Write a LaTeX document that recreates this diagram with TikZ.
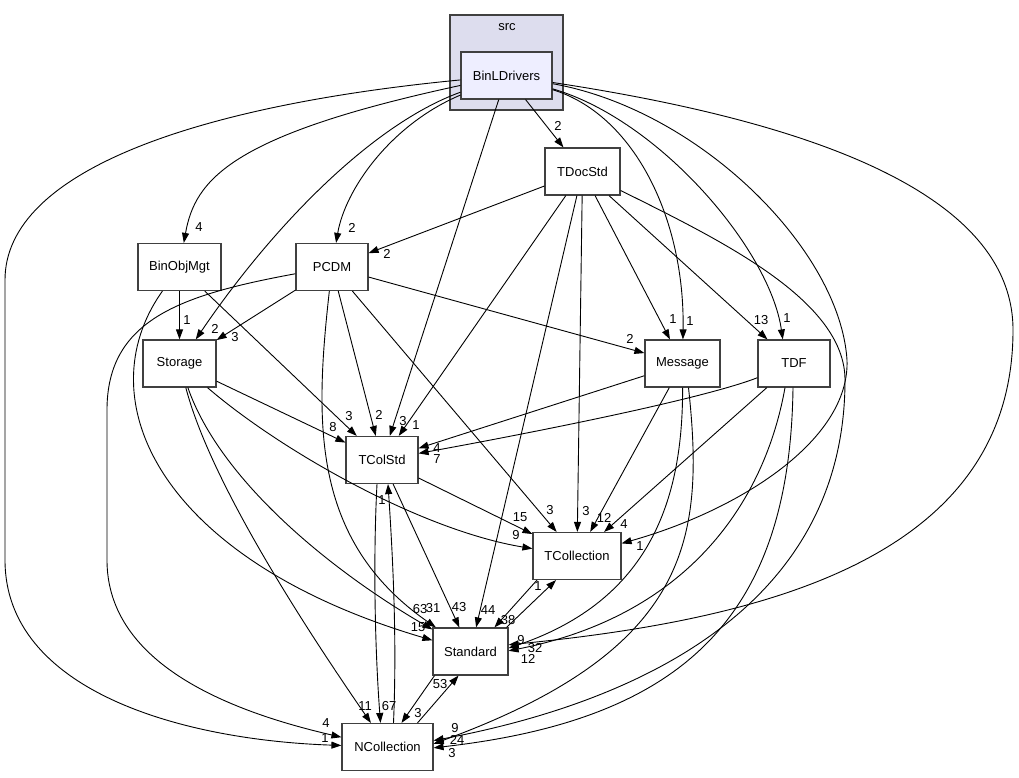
\documentclass[tikz,border=0pt]{standalone}
\usepackage{fontspec}
\setmainfont{Liberation Sans}
\usetikzlibrary{arrows.meta}

\definecolor{srcfill}{HTML}{DDDDEE}
\definecolor{dirfill}{HTML}{EEEEFF}
\definecolor{boxline}{HTML}{404040}

\tikzset{
  dirbox/.style={draw=boxline, line width=1.2pt, fill=white, minimum height=47pt, inner sep=2pt, font=\fontsize{13}{15}\selectfont},
  srcbox/.style={draw=boxline, line width=1.2pt, fill=srcfill},
  dep/.style={-{Triangle[length=10pt,width=7pt]}, line width=0.9pt},
  num/.style={inner sep=0pt, font=\fontsize{13}{15}\selectfont}
}

\begin{document}
\begin{tikzpicture}[x=1pt,y=-1pt]
\useasboundingbox (0,0) rectangle (1019,777);

\node[srcbox, minimum width=113pt, minimum height=95pt, anchor=center] (0) at (506.5,62.5) {};
\node[num, anchor=center] (0l) at (507,27) {src};

\node[dirbox, fill=dirfill, minimum width=91pt, anchor=center] (1) at (506.5,75.5) {BinLDrivers};
\node[dirbox, minimum width=75pt, anchor=center] (2) at (582.5,171.5) {TDocStd};
\node[dirbox, minimum width=83pt, anchor=center] (3) at (179.5,267) {BinObjMgt};
\node[dirbox, minimum width=72pt, anchor=center] (4) at (332,267) {PCDM};
\node[dirbox, minimum width=73pt, anchor=center] (5) at (179.5,363.5) {Storage};
\node[dirbox, minimum width=75pt, anchor=center] (6) at (682.5,363.5) {Message};
\node[dirbox, minimum width=72pt, anchor=center] (7) at (794,363.5) {TDF};
\node[dirbox, minimum width=72pt, anchor=center] (8) at (382,460) {TColStd};
\node[dirbox, minimum width=88pt, anchor=center] (9) at (577,556) {TCollection};
\node[dirbox, minimum width=75pt, anchor=center] (10) at (470.5,651.5) {Standard};
\node[dirbox, minimum width=91pt, anchor=center] (11) at (387.5,747) {NCollection};

% BinLDrivers
\draw[dep] (1) -- (2) node[num] (l1) at (558,126) {2};
\draw[dep] (1) .. controls (230,135) and (195,180) .. (3) node[num] (l2) at (199,227) {4};
\draw[dep] (1) .. controls (390,125) and (345,190) .. (4) node[num] (l3) at (352,228) {2};
\draw[dep] (1) .. controls (370,125) and (270,230) .. (5) node[num] (l4) at (215,329) {2};
\draw[dep] (1) -- (8) node[num] (l5) at (403,421) {3};
\draw[dep] (1) .. controls (200,105) and (5,170) .. (5,280) -- (5,560) .. controls (5,690) and (180,740) .. (11) node[num] (l6) at (325,738) {1};
\draw[dep] (1) .. controls (635,115) and (685,220) .. (6) node[num] (l7) at (690,321) {1};
\draw[dep] (1) .. controls (660,120) and (770,250) .. (7.115) node[num] (l8) at (787,318) {1};
\draw[dep] (1) .. controls (700,110) and (840,250) .. (847,360) .. controls (850,440) and (740,510) .. (9) node[num] (l9) at (640,546) {1};
\draw[dep] (1) .. controls (800,120) and (1013,190) .. (1013,330) .. controls (1013,560) and (760,620) .. (10.10) node[num] (l10) at (521,640) {9};

% TDocStd
\draw[dep] (2) -- (4) node[num] (l11) at (387,254) {2};
\draw[dep] (2) -- (8) node[num] (l12) at (416,425) {1};
\draw[dep] (2) -- (10) node[num] (l13) at (488,610) {44};
\draw[dep] (2) -- (9) node[num] (l14) at (586,511) {3};
\draw[dep] (2) -- (6) node[num] (l15) at (673,319) {1};
\draw[dep] (2) -- (7) node[num] (l16) at (761,320) {13};
\draw[dep] (2) .. controls (720,240) and (845,300) .. (845,380) .. controls (845,600) and (650,700) .. (11.8) node[num] (l17) at (455,728) {9};

% BinObjMgt
\draw[dep] (3) -- (5) node[num] (l18) at (187,320) {1};
\draw[dep] (3) -- (8) node[num] (l19) at (349,416) {3};
\draw[dep] (3) .. controls (85,400) and (160,560) .. (10) node[num] (l20) at (418,627) {15};

% PCDM
\draw[dep] (4) -- (5) node[num] (l21) at (235,337) {3};
\draw[dep] (4) -- (8) node[num] (l22) at (379,415) {2};
\draw[dep] (4) -- (9) node[num] (l23) at (550,510) {3};
\draw[dep] (4) -- (6) node[num] (l24) at (630,339) {2};
\draw[dep] (4) .. controls (180,295) and (107,320) .. (107,410) -- (107,560) .. controls (107,640) and (180,700) .. (11.168) node[num] (l25) at (326,723) {4};
\draw[dep] (4) .. controls (315,420) and (310,540) .. (10) node[num] (l26) at (433,608) {31};

% Storage
\draw[dep] (5) -- (8) node[num] (l27) at (333,427) {8};
\draw[dep] (5) .. controls (280,450) and (420,530) .. (9) node[num] (l28) at (516,535) {9};
\draw[dep] (5) .. controls (220,480) and (330,570) .. (10) node[num] (l29) at (420,609) {63};
\draw[dep] (5) .. controls (210,480) and (300,620) .. (11) node[num] (l30) at (365,706) {11};

% Message
\draw[dep] (6) -- (8) node[num] (l31) at (437,448) {4};
\draw[dep] (6) -- (9) node[num] (l32) at (604,518) {12};
\draw[dep] (6) .. controls (683,500) and (650,600) .. (10.5) node[num] (l33) at (535,648) {32};
\draw[dep] ([xshift=6pt]6.south) .. controls (705,540) and (690,650) .. (11.4) node[num] (l34) at (457,740) {24};

% TDF
\draw[dep] (7) .. controls (700,400) and (520,435) .. (8) node[num] (l35) at (437,459) {7};
\draw[dep] (7) -- (9) node[num] (l36) at (624,524) {4};
\draw[dep] ([xshift=-9pt]7.south) .. controls (765,500) and (690,615) .. (10.1) node[num] (l37) at (528,659) {12};
\draw[dep] ([xshift=-1pt]7.south) .. controls (790,620) and (680,720) .. (11.359) node[num] (l38) at (452,753) {3};

% TColStd
\draw[dep] ([xshift=-5pt]8.south) .. controls (373,560) and (375,650) .. ([xshift=-7pt]11.north) node[num] (l39) at (389,706) {67};
\draw[dep] (8) -- (10) node[num] (l40) at (459,607) {43};
\draw[dep] (8) -- (9) node[num] (l41) at (520,517) {15};

% NCollection
\draw[dep] ([xshift=6pt]11.north) .. controls (397,640) and (393,560) .. ([xshift=6pt]8.south) node[num] (l42) at (382,500) {1};
\draw[dep] ([xshift=30pt]11.north) -- ([xshift=-12pt]10.south) node[num] (l43) at (440,684) {53};

% Standard
\draw[dep] ([xshift=36pt]10.north) -- ([xshift=-21pt]9.south) node[num] (l44) at (538,586) {1};
\draw[dep] ([xshift=-36pt]10.south) -- ([xshift=14pt]11.north) node[num] (l45) at (418,713) {3};

% TCollection
\draw[dep] ([xshift=-40pt]9.south) -- ([xshift=24pt]10.north) node[num] (l46) at (508,620) {38};
\end{tikzpicture}
\end{document}
